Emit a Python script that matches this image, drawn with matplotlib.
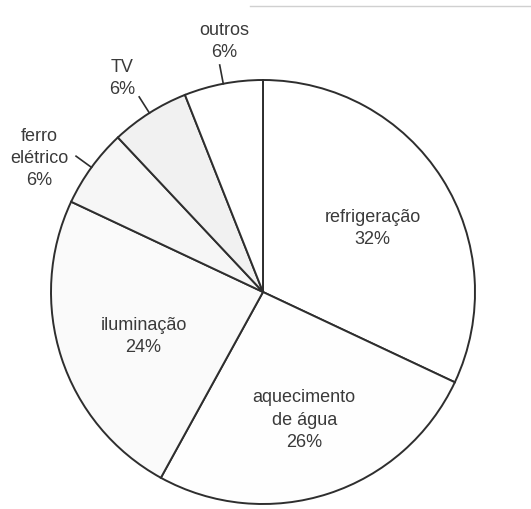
import numpy as np
import matplotlib.pyplot as plt

# consumo de energia elétrica por uso
labels = ['refrigeração', 'aquecimento\nde água', 'iluminação',
          'ferro\nelétrico', 'TV', 'outros']
shares = [32, 26, 24, 6, 6, 6]
fills = ['#ffffff', '#fefefe', '#fafafa', '#f6f6f6', '#f1f1f1', '#ffffff']

# label layout (distance as fraction of radius, angle nudge in degrees)
label_dist = [0.60, 0.63, 0.60, 1.23, 1.21, 1.20]
label_nudge = [-2, 0, 2, 5, 1, -2]
outside = [False, False, False, True, True, True]

W, H = 531, 510
CX, CY, R = 263, H - 293, 212
INK = '#3a3a3a'

plt.rcParams['font.family'] = ['Liberation Sans', 'DejaVu Sans']

fig = plt.figure(figsize=(W / 100, H / 100), dpi=100)
ax = fig.add_axes([0, 0, 1, 1])

wedges, _ = ax.pie(shares, colors=fills, startangle=90, counterclock=False,
                   center=(CX, CY), radius=R, frame=True,
                   wedgeprops=dict(edgecolor='#2e2e2e', linewidth=1.4))
ax.set_xlim(0, W)
ax.set_ylim(0, H)
ax.set_aspect('equal')
ax.axis('off')

for w, lab, pct, d, nudge, out in zip(wedges, labels, shares, label_dist,
                                      label_nudge, outside):
    mid = np.deg2rad((w.theta1 + w.theta2) / 2)
    a = mid + np.deg2rad(nudge)
    tx, ty = CX + d * R * np.cos(a), CY + d * R * np.sin(a)
    ax.text(tx, ty, f'{lab}\n{pct}%', ha='center', va='center',
            fontsize=13, color=INK, linespacing=1.4)
    if out:
        r0, r1 = R, R * 1.09
        ax.plot([CX + r0 * np.cos(mid), CX + r1 * np.cos(mid)],
                [CY + r0 * np.sin(mid), CY + r1 * np.sin(mid)],
                color='#2e2e2e', lw=1.2)

# faint scan line along the top edge
fig.add_artist(plt.Line2D([250 / W, 1], [1 - 7 / H, 1 - 7 / H],
                          transform=fig.transFigure, color='#d0d0d0', lw=1))

fig.savefig('out.png', dpi=100, facecolor='white')
